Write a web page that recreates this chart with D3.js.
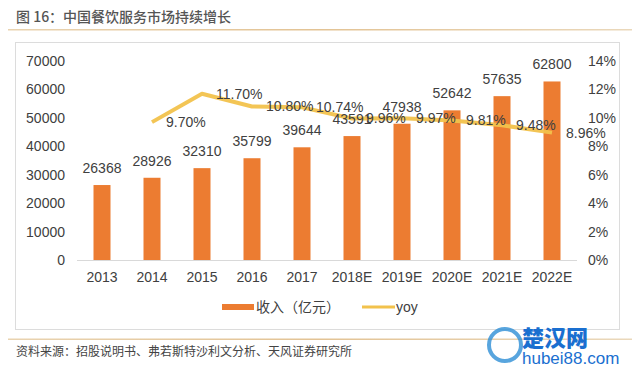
<!DOCTYPE html>
<html><head><meta charset="utf-8">
<script src="https://cdn.jsdelivr.net/npm/d3@7/dist/d3.min.js"></script>
<style>
body{margin:0;background:#fff;}
svg{display:block;}
</style></head>
<body>
<script>
const categories = ["2013","2014","2015","2016","2017","2018E","2019E","2020E","2021E","2022E"];
const revenue = [26368,28926,32310,35799,39644,43591,47938,52642,57635,62800];
const yoyCategories = ["2014","2015","2016","2017","2018E","2019E","2020E","2021E","2022E"];
const yoy = [9.70,11.70,10.80,10.74,9.96,9.97,9.81,9.48,8.96];
const leftTicks = [0,10000,20000,30000,40000,50000,60000,70000];
const rightTicks = [0,2,4,6,8,10,12,14];
const title = "图 16：中国餐饮服务市场持续增长";
const source = "资料来源：招股说明书、弗若斯特沙利文分析、天风证券研究所";
const legendLabels = ["收入（亿元）","yoy"];

const W = 640, H = 367;
const numFont = "'Liberation Sans', Arial, sans-serif";
const cjkFont = "'Noto Sans CJK SC', sans-serif";
const textColor = "#404040";
const barColor = "#ec7c31";
const lineColor = "#f2c24c";

const svg = d3.select("body").append("svg").attr("width", W).attr("height", H);
svg.append("rect").attr("width", W).attr("height", H).attr("fill", "#fff");

// title
svg.append("text").attr("x", 16).attr("y", 22).text(title)
  .attr("font-family", cjkFont).attr("font-size", 14).attr("fill", "#555").attr("font-weight", 500);
const grad = svg.append("defs").append("linearGradient").attr("id","tan");
grad.append("stop").attr("offset","0%").attr("stop-color","#e9d3b0");
grad.append("stop").attr("offset","50%").attr("stop-color","#e3c394");
grad.append("stop").attr("offset","100%").attr("stop-color","#ead8bb");
svg.append("rect").attr("x", 8).attr("y", 29).attr("width", 624).attr("height", 1.5).attr("fill", "url(#tan)");

// frame
svg.append("rect").attr("x", 15.5).attr("y", 42.5).attr("width", 604).attr("height", 287)
  .attr("fill", "none").attr("stroke", "#dcdcdc").attr("stroke-width", 1);

const x = d3.scaleBand().domain(categories).range([77, 577]).paddingInner(0.66).paddingOuter(0.33);
const y = d3.scaleLinear().domain([0, 70000]).range([260, 61]);
const y2 = d3.scaleLinear().domain([0, 14]).range([260, 61]);

// left axis
const la = svg.append("g").attr("transform", "translate(77,0)")
  .call(d3.axisLeft(y).tickValues(leftTicks).tickSize(0).tickPadding(12).tickFormat(d3.format("d")));
la.select(".domain").remove();
la.selectAll("text").attr("font-family", numFont).attr("font-size", 14).attr("fill", textColor);

// right axis
const ra = svg.append("g").attr("transform", "translate(577,0)")
  .call(d3.axisRight(y2).tickValues(rightTicks).tickSize(0).tickPadding(11).tickFormat(d => d + "%"));
ra.select(".domain").remove();
ra.selectAll("text").attr("font-family", numFont).attr("font-size", 14).attr("fill", textColor);

// bottom axis
const ba = svg.append("g").attr("transform", "translate(0,260)")
  .call(d3.axisBottom(x).tickSize(0).tickPadding(12));
ba.select(".domain").attr("stroke", "#d9d9d9").attr("d", "M77,0.5H577");
ba.selectAll("text").attr("font-family", numFont).attr("font-size", 14).attr("fill", textColor);

// bars
svg.selectAll(".bar").data(categories).enter().append("rect")
  .attr("x", d => x(d)).attr("width", x.bandwidth())
  .attr("y", (d,i) => y(revenue[i])).attr("height", (d,i) => 260 - y(revenue[i]))
  .attr("fill", barColor);

// line
const cx = c => x(c) + x.bandwidth()/2;
const lineData = yoyCategories.map((c,i) => [cx(c), y2(yoy[i])]);
svg.append("path").attr("d", d3.line()(lineData)).attr("fill", "none")
  .attr("stroke", lineColor).attr("stroke-width", 4).attr("stroke-linejoin", "round").attr("opacity", 0.95);

// bar labels
svg.selectAll(".bl").data(categories).enter().append("text")
  .attr("x", d => cx(d)).attr("y", (d,i) => y(revenue[i]) - 17).attr("dy", "0.35em")
  .attr("text-anchor", "middle").text((d,i) => revenue[i])
  .attr("font-family", numFont).attr("font-size", 14).attr("fill", textColor);

// line labels
svg.selectAll(".ll").data(yoyCategories).enter().append("text")
  .attr("x", d => cx(d) + 14).attr("y", (d,i) => y2(yoy[i])).attr("dy", "0.35em")
  .text((d,i) => yoy[i].toFixed(2) + "%")
  .attr("font-family", numFont).attr("font-size", 14).attr("fill", textColor);

// legend
svg.append("rect").attr("x", 222).attr("y", 304).attr("width", 32).attr("height", 6).attr("fill", barColor);
svg.append("text").attr("x", 256).attr("y", 307).attr("dy", "0.35em").text(legendLabels[0])
  .attr("font-family", cjkFont).attr("font-size", 14).attr("fill", textColor);
svg.append("line").attr("x1", 362).attr("x2", 395).attr("y1", 307).attr("y2", 307)
  .attr("stroke", lineColor).attr("stroke-width", 3);
svg.append("text").attr("x", 396).attr("y", 307).attr("dy", "0.35em").text(legendLabels[1])
  .attr("font-family", numFont).attr("font-size", 14).attr("fill", textColor);

// footer
svg.append("rect").attr("x", 8).attr("y", 338.5).attr("width", 624).attr("height", 1.5).attr("fill", "url(#tan)");
svg.append("text").attr("x", 16).attr("y", 352).attr("dy", "0.35em").text(source)
  .attr("font-family", cjkFont).attr("font-size", 12).attr("fill", "#444");

// watermark
svg.append("circle").attr("cx", 505).attr("cy", 345).attr("r", 16).attr("fill", "none")
  .attr("stroke", "#2e8fd6").attr("stroke-width", 4).attr("opacity", 0.8);
svg.append("text").attr("x", 522).attr("y", 338).attr("dy", "0.35em").text("楚汉网")
  .attr("font-family", cjkFont).attr("font-size", 22).attr("font-weight", 900).attr("fill", "#1a6fd0");
svg.append("text").attr("x", 522).attr("y", 358).attr("dy", "0.35em").text("hubei88.com")
  .attr("font-family", numFont).attr("font-size", 17).attr("fill", "#1a6fd0");
</script>
</body></html>
